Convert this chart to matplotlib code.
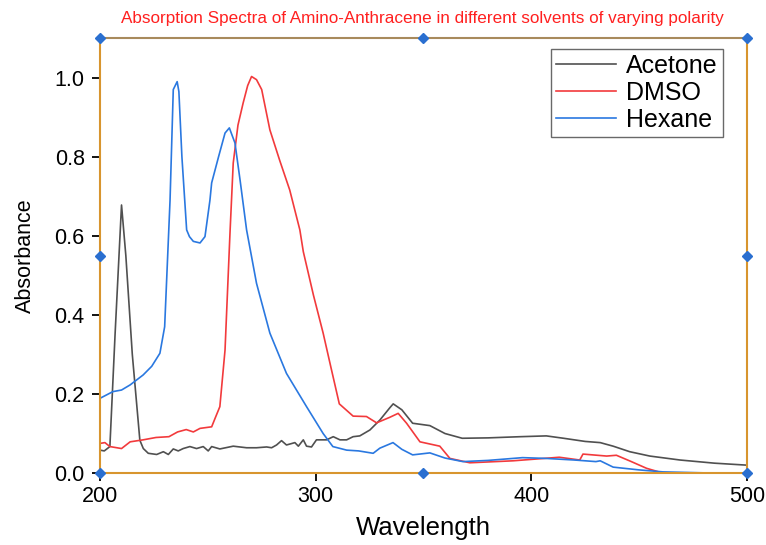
import numpy as np
import matplotlib.pyplot as plt

plt.rcParams['font.family'] = ['Liberation Sans', 'DejaVu Sans']

# absorption spectra (wavelength in nm, absorbance)
acetone_wl = [200, 202, 204.6, 207, 210, 212, 215, 218.5, 220.1, 222.4, 226.3, 229.4, 231.7,
              234, 236.3, 238.6, 241.7, 244.8, 247.9, 250.2, 251.8, 255.6, 261.8, 268, 272.6,
              277.3, 279.6, 281.9, 284.2, 286.5, 290.4, 292, 294.3, 295.8, 298.1, 300.4,
              305.1, 308.2, 311.3, 314.4, 317.4, 320.5, 325.2, 329.8, 334.4, 336, 340, 345,
              353, 360, 368, 380, 395, 407, 415, 425, 432, 438, 445.7, 455, 469, 485, 500]
acetone_ab = [0.058, 0.056, 0.067, 0.35, 0.678, 0.55, 0.3, 0.083, 0.062, 0.05, 0.047, 0.054,
              0.047, 0.061, 0.056, 0.062, 0.067, 0.062, 0.067, 0.056, 0.067, 0.061, 0.068,
              0.064, 0.064, 0.066, 0.064, 0.071, 0.082, 0.071, 0.077, 0.068, 0.084, 0.068,
              0.066, 0.084, 0.084, 0.092, 0.084, 0.084, 0.092, 0.094, 0.109, 0.134, 0.165,
              0.175, 0.16, 0.126, 0.12, 0.1, 0.088, 0.089, 0.092, 0.094, 0.088, 0.08, 0.077,
              0.068, 0.054, 0.043, 0.033, 0.025, 0.02]

dmso_wl = [200, 202.3, 204.6, 210, 214, 220, 226, 232, 236, 240, 243.3, 246.4, 251.8, 253.5,
           255.6, 258, 260.3, 261.8, 264, 266.4, 268.5, 270.3, 272.6, 275, 278.8, 283.4, 288,
           292.7, 294.3, 299, 303.5, 307, 311, 317.4, 323.6, 328.3, 334.4, 338.3, 342.2,
           348.4, 357.6, 362.3, 371.5, 391.6, 413, 422.5, 424, 435, 439.5, 446, 453.5, 461]
dmso_ab = [0.075, 0.077, 0.067, 0.062, 0.079, 0.084, 0.09, 0.092, 0.104, 0.11, 0.104, 0.113,
           0.117, 0.14, 0.168, 0.311, 0.607, 0.784, 0.88, 0.936, 0.98, 1.003, 0.995, 0.97,
           0.868, 0.79, 0.716, 0.615, 0.56, 0.45, 0.354, 0.27, 0.175, 0.144, 0.143, 0.127,
           0.141, 0.151, 0.126, 0.079, 0.068, 0.037, 0.026, 0.031, 0.04, 0.033, 0.048, 0.043,
           0.045, 0.03, 0.012, 0.0]

hexane_wl = [200, 206, 210, 214, 220, 224, 227.8, 230, 232.5, 234, 235.8, 236.6, 238, 240.2,
             241.5, 243.3, 246.4, 248.7, 251, 251.8, 255, 258, 260, 262.6, 265, 268, 272.6,
             278.8, 286.5, 295.8, 303.5, 308, 314.4, 320, 326.7, 329.8, 335.9, 340, 345, 353,
             360, 368.3, 380, 396, 407, 420, 430, 432, 438, 450, 461, 484]
hexane_ab = [0.189, 0.206, 0.21, 0.223, 0.248, 0.27, 0.303, 0.37, 0.69, 0.97, 0.99, 0.965, 0.8,
             0.615, 0.598, 0.586, 0.582, 0.598, 0.69, 0.734, 0.8, 0.86, 0.873, 0.835, 0.74,
             0.615, 0.48, 0.354, 0.252, 0.168, 0.1, 0.067, 0.058, 0.056, 0.05, 0.063, 0.077,
             0.06, 0.046, 0.051, 0.038, 0.029, 0.032, 0.039, 0.037, 0.033, 0.029, 0.031, 0.015,
             0.008, 0.003, 0.0]

series = [("Acetone", acetone_wl, acetone_ab, "#505050"),
          ("DMSO", dmso_wl, dmso_ab, "#f23a3c"),
          ("Hexane", hexane_wl, hexane_ab, "#2a78e0")]

fig = plt.figure(figsize=(7.66, 5.45), dpi=100)
ax = fig.add_axes([0.1305, 0.132, 0.8445, 0.798])

for name, wl, ab, col in series:
    ax.plot(wl, ab, color=col, lw=1.2, label=name)

ax.set_xlim(200, 500)
ax.set_ylim(0, 1.1)
ax.set_xticks([200, 300, 400, 500])
ax.set_yticks([0.0, 0.2, 0.4, 0.6, 0.8, 1.0])
ax.set_yticklabels(["0.0", "0.2", "0.4", "0.6", "0.8", "1.0"])
ax.tick_params(direction="out", length=6, width=1.3, labelsize=15.5, colors="black")
ax.tick_params(axis="y", pad=5)

for side in ax.spines:
    ax.spines[side].set_color("#d8952e")
    ax.spines[side].set_linewidth(1.5)
ax.spines["top"].set_color("#a88a5c")

ax.set_xlabel("Wavelength", fontsize=18.5, labelpad=6)
ax.set_ylabel("Absorbance", fontsize=15.5, labelpad=13)
fig.text(0.551, 0.966, "Absorption Spectra of Amino-Anthracene in different solvents of varying polarity",
         color="#ff2020", fontsize=12.3, ha="center", va="center")

# selection handles around the frame
hx = [200, 200, 200, 350, 500, 500, 500, 350]
hy = [0, 0.55, 1.1, 1.1, 1.1, 0.55, 0, 0]
ax.plot(hx, hy, ls="none", marker="D", ms=5, color="#2a6fd0", clip_on=False, zorder=5)

leg = ax.legend(loc="upper right", fontsize=18, frameon=True, fancybox=False,
                edgecolor="#444444", handlelength=2.4, labelspacing=0.12,
                borderpad=0.2, handletextpad=0.4, borderaxespad=0,
                bbox_to_anchor=(0.963, 0.975))
leg.get_frame().set_linewidth(1.0)

fig.savefig("out.png", dpi=100)
